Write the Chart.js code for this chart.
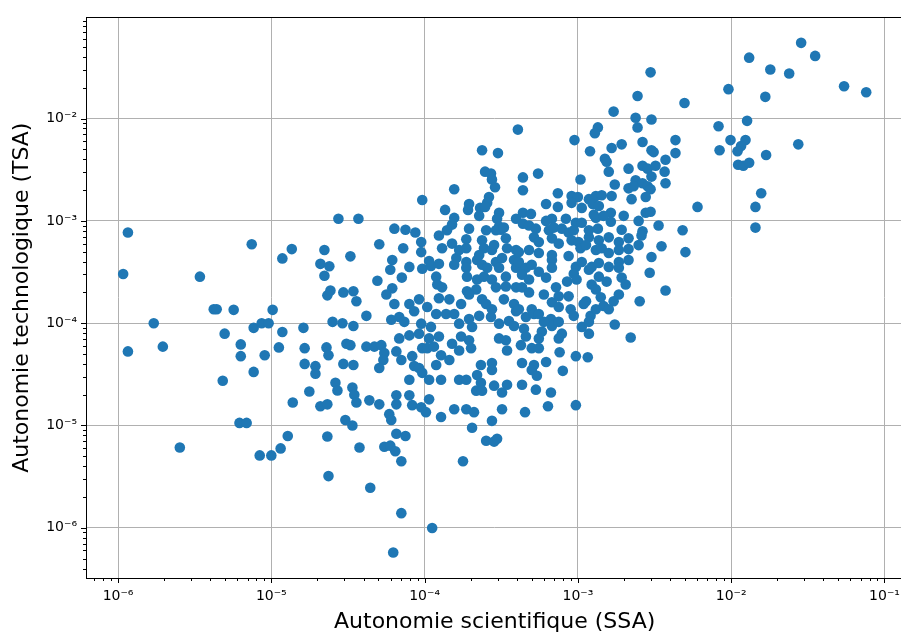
<!DOCTYPE html>
<html>
<head>
<meta charset="utf-8">
<script src="https://cdn.jsdelivr.net/npm/chart.js@4.4.0/dist/chart.umd.min.js"></script>
<style>
  html, body { margin: 0; padding: 0; background: #fff; overflow: hidden; }
  #wrap { width: 910px; height: 635px; }
</style>
</head>
<body>
<div id="wrap"><canvas id="chart" width="910" height="635"></canvas></div>
<script>
// SSA (x) and TSA (y) for each point
const ssa = [
  // left part
  1.08e-6, 1.16e-6, 1.16e-6, 1.71e-6, 1.96e-6, 2.53e-6, 3.42e-6, 4.21e-6, 4.4e-6, 5.68e-6,
  1.02e-5, 4.96e-6, 4.82e-6, 6.32e-6, 6.32e-6, 6.2e-6, 6.9e-6, 7.45e-6, 7.67e-6, 7.67e-6,
  8.4e-6, 1.0e-5, 8.65e-6, 9.6e-6, 9.05e-6, 1.18e-5, 1.12e-5, 1.18e-5, 1.36e-5, 1.15e-5,
  1.28e-5, 1.38e-5, 1.62e-5, 1.65e-5, 1.65e-5, 1.77e-5, 1.94e-5, 1.94e-5, 2.09e-5, 2.09e-5,
  2.22e-5, 2.22e-5, 2.29e-5, 2.32e-5, 2.32e-5, 2.32e-5, 2.36e-5, 2.36e-5, 2.39e-5, 2.43e-5,
  2.51e-5, 2.62e-5, 2.7e-5, 2.74e-5, 2.91e-5, 2.95e-5, 2.95e-5, 3.04e-5, 3.09e-5, 3.28e-5,
  3.28e-5, 3.38e-5, 3.38e-5, 3.43e-5, 3.43e-5, 3.43e-5, 3.48e-5, 3.59e-5, 3.59e-5, 3.7e-5,
  3.76e-5,
  // upper middle
  2.37e-4, 3.01e-4, 2.48e-4, 2.71e-4, 2.75e-4, 2.88e-4, 1.56e-4, 9.65e-5, 2.63e-4, 2.56e-4,
  2.3e-4, 2.48e-4, 1.36e-4, 1.92e-4, 2.27e-4, 3.06e-4, 2.97e-4, 3.95e-4, 6.35e-5, 7.5e-5,
  8.7e-5, 1.51e-4, 1.4e-4, 1.95e-4, 2.52e-4, 3.06e-4, 3.15e-4, 2.92e-4,
  // upper right of the cloud
  9.5e-4, 1.93e-3, 2.64e-3, 4.33e-3, 1.2e-3, 1.66e-3, 3.02e-3, 3.12e-3, 4.33e-3, 1.5e-3,
  1.54e-3, 1.59e-3, 2.14e-3, 2.64e-3, 2.85e-3, 3.21e-3, 3.73e-3, 3.68e-3, 3.02e-3, 4.38e-4,
  5.5e-4, 1.04e-3, 1.74e-3, 2.38e-3, 2.64e-3, 2.14e-3, 2.31e-3, 2.85e-3, 2.98e-3, 3.73e-3,
  4.38e-4, 7.4e-4, 9.1e-4, 1.0e-3, 9.1e-4, 1.18e-3, 1.31e-3, 1.43e-3, 1.66e-3, 2.24e-3,
  2.77e-3, 6.2e-4, 7.4e-4, 1.06e-3, 1.25e-3, 1.37e-3, 1.27e-3, 1.31e-3, 1.64e-3, 2.77e-3,
  2.98e-3, 4.38e-4, 4.94e-4, 6.77e-4, 6.2e-4, 8.35e-4, 9.7e-4, 1.06e-3, 1.35e-3, 1.64e-3,
  4.38e-4, 4.8e-4, 5.32e-4, 6.47e-4, 7.86e-4, 8.7e-4, 1.93e-3, 2.64e-3,
  // core, left half
  5.06e-5, 7.25e-5, 9.5e-5, 9.5e-5, 1.3e-4, 1.51e-4, 1.87e-4, 1.87e-4, 2.37e-4, 2.44e-4,
  2.75e-4, 3.39e-4, 3.45e-4, 3.95e-4, 6.15e-5, 5.97e-5, 9.65e-5, 1.1e-4, 1.24e-4, 1.61e-4,
  1.56e-4, 1.87e-4, 1.87e-4, 1.89e-4, 2.2e-4, 2.37e-4, 2.56e-4, 2.92e-4, 3.06e-4, 3.2e-4,
  3.83e-4, 3.95e-4, 1.19e-4, 1.21e-4, 1.3e-4, 4.92e-5, 7.1e-5, 6.15e-5, 5.63e-5, 1.24e-4,
  1.45e-4, 1.89e-4, 2.17e-4, 2.2e-4, 2.44e-4, 2.75e-4, 3.39e-4, 2.92e-4, 3.39e-4, 3.95e-4,
  6.35e-5, 7.95e-5, 8.55e-5, 9.2e-5, 1.04e-4, 4.17e-5, 6.06e-5, 6.83e-5, 7.37e-5, 1.19e-4,
  1.38e-4, 1.68e-4, 1.95e-4, 2.04e-4, 2.27e-4, 2.37e-4, 2.52e-4, 2.75e-4, 2.71e-4, 3.06e-4,
  3.55e-4, 3.83e-4, 3.95e-4, 9.5e-5, 1.1e-4,
  // core, right half
  5.17e-4, 6.77e-4, 7.5e-4, 9.1e-4, 1.01e-3, 1.18e-3, 1.37e-3, 1.59e-3, 1.85e-3, 2.14e-3,
  2.6e-3, 4.12e-4, 4.8e-4, 5.56e-4, 6.77e-4, 8.7e-4, 1.04e-3, 1.13e-3, 1.31e-3, 1.43e-3,
  1.59e-3, 1.85e-3, 1.85e-3, 2.14e-3, 3.51e-3, 3.02e-3, 2.94e-3, 3.73e-3, 4.12e-4, 4.58e-4,
  4.32e-4, 5.0e-4, 5.56e-4, 6.2e-4, 6.77e-4, 6.77e-4, 9.7e-4, 1.06e-3, 1.18e-3, 1.23e-3,
  9.4e-4, 9.8e-4, 8.5e-4, 1.37e-3, 1.54e-3, 1.23e-3, 1.31e-3, 1.41e-3, 1.85e-3, 1.93e-3,
  2.05e-3, 7.2e-4, 4.32e-4, 4.8e-4, 8.7e-4, 1.13e-3, 1.71e-3, 2.53e-3, 6.77e-4, 7.5e-4,
  8.97e-4, 1.21e-3, 1.31e-3, 1.47e-3, 4.12e-4, 5.0e-4, 4.58e-4, 5.17e-4, 6.67e-4, 6.77e-4,
  1.06e-3, 1.18e-3, 1.74e-3, 5.82e-4, 7.86e-4, 1.18e-3,
  // core, extra points in the densest part
  1.95e-4, 1.73e-4, 1.56e-4, 3.29e-4, 4.8e-4, 6.0e-4, 7.5e-4, 5.56e-4, 3.83e-4, 4.45e-4,
  7.5e-4, 9.4e-4, 1.09e-3, 1.59e-3, 1.85e-3, 2.27e-4, 1.68e-4, 2.84e-4, 3.29e-4, 5.56e-4,
  6.97e-4, 9.4e-4, 1.18e-3, 1.37e-3, 1.59e-3, 2.14e-3, 2.49e-3, 1.99e-3, 1.47e-3, 2.49e-3,
  3.36e-3, 1.95e-4, 1.56e-4, 1.24e-4, 1.07e-4, 7.95e-5, 3.06e-4, 6.0e-4,
  // lower middle
  4.17e-5, 4.7e-5, 5.22e-5, 5.46e-5, 5.38e-5, 5.06e-5, 6.83e-5, 6.54e-5, 7.05e-5, 7.95e-5,
  9.2e-5, 1.07e-4, 1.24e-4, 9.65e-5, 1.04e-4, 1.15e-4, 1.28e-4, 1.45e-4, 1.51e-4, 1.68e-4,
  1.73e-4, 1.95e-4, 2.01e-4, 8.3e-5, 8.55e-5, 9.2e-5, 9.65e-5, 1.07e-4, 1.19e-4, 1.28e-4,
  2.33e-4, 2.75e-4, 2.75e-4, 3.39e-4, 3.45e-4, 1.68e-4, 1.87e-4, 2.2e-4, 2.33e-4, 2.17e-4,
  2.37e-4, 2.84e-4, 3.2e-4, 3.45e-4, 7.95e-5, 6.54e-5, 6.54e-5, 7.95e-5, 4.36e-5, 5.06e-5,
  8.3e-5, 9.5e-5, 1.02e-4, 1.07e-4, 5.88e-5, 6.06e-5, 1.28e-4, 1.56e-4, 1.87e-4, 2.1e-4,
  3.2e-4, 2.75e-4, 2.04e-4, 6.54e-5,
  // lower right
  4.58e-4, 5.56e-4, 7.5e-4, 2.21e-3, 4.25e-4, 5.0e-4, 5.56e-4, 7.6e-4, 9.7e-4, 1.16e-3,
  4.32e-4, 5.17e-4, 5.0e-4, 5.4e-4, 6.2e-4, 7.97e-4, 4.32e-4, 5.32e-4, 6.67e-4, 4.52e-4,
  6.38e-4, 9.7e-4,
  // top
  4.06e-4, 2.98e-3, 2.45e-3, 1.71e-3, 2.38e-3, 2.45e-3, 3.02e-3, 4.96e-3, 1.35e-3, 1.29e-3,
  8.27e-3, 9.6e-3, 1.27e-2, 1.31e-2, 1.8e-2, 2.39e-2, 2.86e-2, 3.53e-2, 1.67e-2, 5.45e-2,
  7.6e-2,
  // far right
  9.9e-3, 1.24e-2, 1.16e-2, 1.1e-2, 8.4e-3, 2.74e-2, 1.69e-2, 1.11e-2, 1.2e-2, 1.31e-2,
  1.57e-2, 6.03e-3, 1.44e-2, 1.44e-2, 4.82e-3, 5.03e-3,
  // bottom
  7.5e-5, 5.46e-5, 5.97e-5, 6.44e-5, 7.05e-5, 4.42e-5, 7.05e-5, 6.24e-5, 1.12e-4, 1.78e-4,
  2.52e-4, 2.84e-4, 2.97e-4
];

const tsa = [
  // left part
  3.03e-4, 7.7e-4, 5.3e-5, 1.0e-4, 5.9e-5, 6.1e-6, 2.85e-4, 1.37e-4, 1.37e-4, 1.35e-4,
  1.35e-4, 7.9e-5, 2.74e-5, 6.2e-5, 4.76e-5, 1.06e-5, 1.06e-5, 5.9e-4, 9.0e-5, 3.34e-5,
  5.1e-6, 5.1e-6, 1.0e-4, 1.0e-4, 4.86e-5, 8.2e-5, 5.8e-5, 4.3e-4, 5.3e-4, 5.97e-6,
  7.9e-6, 1.68e-5, 9.0e-5, 5.7e-5, 4.0e-5, 2.15e-5, 3.8e-5, 3.2e-5, 3.8e-4, 1.54e-5,
  5.2e-4, 2.91e-4, 5.8e-5, 1.87e-4, 1.61e-5, 7.8e-6, 4.86e-5, 3.2e-6, 3.6e-4, 2.09e-4,
  1.03e-4, 2.62e-5, 2.2e-5, 1.05e-3, 1.0e-4, 2.0e-4, 4.0e-5, 1.13e-5, 6.3e-5, 6.1e-5,
  4.5e-4, 2.35e-5, 1.0e-5, 2.05e-4, 9.4e-5, 3.9e-5, 2.0e-5, 1.64e-4, 1.68e-5, 1.05e-3,
  6.1e-6,
  // upper middle
  4.9e-3, 4.6e-3, 3.03e-3, 2.9e-3, 2.54e-3, 2.13e-3, 2.04e-3, 1.6e-3, 1.71e-3, 1.5e-3,
  1.34e-3, 1.37e-3, 1.28e-3, 1.28e-3, 1.12e-3, 1.2e-3, 1.05e-3, 1.05e-3, 8.4e-4, 8.2e-4,
  7.7e-4, 9.2e-4, 8.1e-4, 8.4e-4, 8.1e-4, 8.8e-4, 8.2e-4, 8.1e-4,
  // upper right of the cloud
  6.16e-3, 5.6e-3, 5.9e-3, 6.16e-3, 4.8e-3, 5.15e-3, 4.9e-3, 4.7e-3, 4.6e-3, 4.05e-3,
  3.78e-3, 3.03e-3, 3.24e-3, 3.46e-3, 3.24e-3, 3.46e-3, 3.96e-3, 3.03e-3, 2.71e-3, 2.66e-3,
  2.9e-3, 2.54e-3, 2.27e-3, 2.49e-3, 2.33e-3, 2.08e-3, 2.18e-3, 2.18e-3, 2.04e-3, 2.33e-3,
  1.99e-3, 1.86e-3, 1.75e-3, 1.71e-3, 1.5e-3, 1.63e-3, 1.75e-3, 1.78e-3, 1.75e-3, 1.63e-3,
  1.71e-3, 1.46e-3, 1.37e-3, 1.34e-3, 1.46e-3, 1.4e-3, 1.15e-3, 1.07e-3, 1.2e-3, 1.2e-3,
  1.23e-3, 1.2e-3, 1.17e-3, 1.05e-3, 1.0e-3, 1.05e-3, 9.6e-4, 9.6e-4, 8.4e-4, 9.8e-4,
  9.4e-4, 9.0e-4, 8.4e-4, 8.1e-4, 8.4e-4, 7.7e-4, 8.2e-4, 7.9e-4,
  // core, left half
  5.9e-4, 5.4e-4, 6.2e-4, 4.95e-4, 5.4e-4, 6.0e-4, 6.6e-4, 5.4e-4, 6.45e-4, 5.4e-4,
  5.2e-4, 6.75e-4, 5.4e-4, 5.2e-4, 4.15e-4, 3.33e-4, 3.4e-4, 3.63e-4, 3.8e-4, 4.33e-4,
  3.72e-4, 3.97e-4, 3.48e-4, 2.85e-4, 4.15e-4, 3.72e-4, 3.48e-4, 3.97e-4, 3.48e-4, 4.33e-4,
  4.15e-4, 3.48e-4, 2.85e-4, 2.39e-4, 2.24e-4, 2.6e-4, 2.79e-4, 2.19e-4, 1.91e-4, 1.75e-4,
  1.71e-4, 2.05e-4, 2.14e-4, 2.67e-4, 2.85e-4, 2.67e-4, 2.85e-4, 2.24e-4, 2.28e-4, 2.24e-4,
  1.54e-4, 1.54e-4, 1.31e-4, 1.71e-4, 1.44e-4, 1.18e-4, 1.08e-4, 1.15e-4, 1.03e-4, 1.23e-4,
  1.23e-4, 9.9e-5, 1.1e-4, 9.2e-5, 1.18e-4, 1.71e-4, 1.54e-4, 1.37e-4, 1.15e-4, 9.9e-5,
  1.05e-4, 1.54e-4, 1.31e-4, 9.9e-5, 9.2e-5,
  // core, right half
  6.9e-4, 6.75e-4, 6.0e-4, 6.45e-4, 6.2e-4, 6.9e-4, 6.45e-4, 6.9e-4, 6.2e-4, 6.75e-4,
  7.2e-4, 4.95e-4, 5.2e-4, 4.85e-4, 4.63e-4, 4.53e-4, 5.4e-4, 5.8e-4, 5.2e-4, 5.4e-4,
  4.85e-4, 5.2e-4, 3.97e-4, 5.3e-4, 5.65e-4, 4.43e-4, 3.11e-4, 2.09e-4, 3.97e-4, 3.48e-4,
  2.98e-4, 3.72e-4, 3.18e-4, 2.79e-4, 4.15e-4, 3.48e-4, 3.55e-4, 3.97e-4, 3.33e-4, 3.55e-4,
  3.04e-4, 2.67e-4, 2.55e-4, 2.85e-4, 2.55e-4, 2.39e-4, 2.14e-4, 1.79e-4, 3.48e-4, 2.79e-4,
  2.39e-4, 2.24e-4, 2.24e-4, 2.0e-4, 1.83e-4, 1.64e-4, 1.64e-4, 1.64e-4, 1.6e-4, 1.44e-4,
  1.37e-4, 1.18e-4, 1.37e-4, 1.47e-4, 1.37e-4, 1.37e-4, 1.15e-4, 1.23e-4, 1.1e-4, 9.4e-5,
  9.2e-5, 1.03e-4, 9.7e-5, 8.3e-5, 7.9e-5, 7.9e-5,
  // core, extra points in the densest part
  1.91e-4, 1.54e-4, 1.23e-4, 1.71e-4, 2.67e-4, 1.91e-4, 1.83e-4, 1.23e-4, 9.4e-5, 8.8e-5,
  1.03e-4, 1.18e-4, 1.54e-4, 1.37e-4, 1.91e-4, 4.63e-4, 5.2e-4, 5.8e-4, 8.6e-4, 6.2e-4,
  8.6e-4, 8.1e-4, 8.1e-4, 3.88e-4, 3.55e-4, 4.15e-4, 1.0e-3, 1.12e-3, 1.12e-3, 5.8e-4,
  9.0e-4, 1.46e-3, 1.07e-3, 7.2e-4, 4.06e-4, 3.55e-4, 7.1e-5, 1.03e-4,
  // lower middle
  5.9e-5, 5.9e-5, 6.1e-5, 5.1e-5, 4.36e-5, 3.65e-5, 7.1e-5, 5.3e-5, 4.36e-5, 7.6e-5,
  7.9e-5, 7.1e-5, 7.4e-5, 5.7e-5, 5.7e-5, 5.9e-5, 4.86e-5, 4.36e-5, 6.3e-5, 5.4e-5,
  7.4e-5, 6.8e-5, 5.7e-5, 4.76e-5, 3.81e-5, 3.65e-5, 3.27e-5, 2.8e-5, 3.9e-5, 2.8e-5,
  3.9e-5, 4.08e-5, 3.49e-5, 6.8e-5, 5.4e-5, 2.8e-5, 2.8e-5, 3.12e-5, 2.62e-5, 2.19e-5,
  2.19e-5, 2.45e-5, 2.1e-5, 2.5e-5, 2.8e-5, 1.97e-5, 1.61e-5, 1.97e-5, 1.76e-5, 1.61e-5,
  1.58e-5, 1.51e-5, 1.35e-5, 1.8e-5, 1.29e-5, 1.13e-5, 1.21e-5, 1.44e-5, 1.44e-5, 1.35e-5,
  1.44e-5, 1.11e-5, 9.5e-6, 8.3e-6,
  // lower right
  7.4e-5, 7.1e-5, 7.1e-5, 7.25e-5, 6.1e-5, 5.7e-5, 5.7e-5, 5.2e-5, 4.76e-5, 4.65e-5,
  4.08e-5, 3.9e-5, 3.49e-5, 3.06e-5, 4.17e-5, 3.42e-5, 2.5e-5, 2.24e-5, 2.1e-5, 1.35e-5,
  1.54e-5, 1.58e-5,
  // top
  7.8e-3, 2.83e-2, 1.66e-2, 1.17e-2, 1.02e-2, 8.2e-3, 9.8e-3, 1.42e-2, 8.2e-3, 7.2e-3,
  8.4e-3, 1.94e-2, 9.5e-3, 3.94e-2, 3.02e-2, 2.76e-2, 5.5e-2, 4.1e-2, 1.63e-2, 2.07e-2,
  1.81e-2,
  // far right
  6.16e-3, 6.16e-3, 5.4e-3, 4.8e-3, 4.9e-3, 5.6e-3, 4.4e-3, 3.54e-3, 3.46e-3, 3.7e-3,
  1.86e-3, 1.37e-3, 1.37e-3, 8.6e-4, 8.1e-4, 4.95e-4,
  // bottom
  7.9e-6, 6.2e-6, 6.35e-6, 5.6e-6, 4.47e-6, 2.46e-6, 1.39e-6, 5.73e-7, 9.95e-7, 4.47e-6,
  7.1e-6, 6.96e-6, 7.4e-6
];

// axis limits (log scale, as in the reference)
const X_MIN = 6.18e-7, X_MAX = 0.1327;
const Y_MIN = 3.23e-7, Y_MAX = 0.0975;

const points = ssa.map((x, i) => ({ x: x, y: tsa[i] }));

const SUP = { '-': '\u207B', '0': '\u2070', '1': '\u00B9', '2': '\u00B2', '3': '\u00B3',
  '4': '\u2074', '5': '\u2075', '6': '\u2076', '7': '\u2077', '8': '\u2078', '9': '\u2079' };

function isDecade(v) {
  const l = Math.log10(v);
  return Math.abs(l - Math.round(l)) < 1e-6;
}

function powLabel(v) {
  const e = Math.round(Math.log10(v));
  return '10' + String(e).split('').map(c => SUP[c]).join('');
}

// 1..9 x 10^k ticks, decades are the major ones
function logTicks(scale) {
  const out = [];
  for (let e = -8; e <= 0; e++) {
    for (let m = 1; m <= 9; m++) {
      const v = m * Math.pow(10, e);
      if (v >= scale.min && v <= scale.max) out.push({ value: v, major: m === 1 });
    }
  }
  scale.ticks = out;
}

// black frame + outward tick marks (long on decades, short otherwise)
const axisFrame = {
  id: 'axisFrame',
  afterDatasetsDraw(chart) {
    const { ctx, chartArea: a, scales } = chart;
    ctx.save();
    ctx.strokeStyle = '#000';
    ctx.lineWidth = 1;
    ctx.beginPath();
    scales.x.ticks.forEach(t => {
      const px = Math.round(scales.x.getPixelForValue(t.value)) + 0.5;
      const len = isDecade(t.value) ? 5 : 3;
      ctx.moveTo(px, a.bottom);
      ctx.lineTo(px, a.bottom + len);
    });
    scales.y.ticks.forEach(t => {
      const py = Math.round(scales.y.getPixelForValue(t.value)) + 0.5;
      const len = isDecade(t.value) ? 5 : 3;
      ctx.moveTo(a.left - len, py);
      ctx.lineTo(a.left, py);
    });
    ctx.stroke();
    ctx.strokeRect(Math.round(a.left) + 0.5, Math.round(a.top) + 0.5,
      Math.round(a.right - a.left), Math.round(a.bottom - a.top));
    ctx.restore();
  }
};

const tickFont = { family: 'DejaVu Sans', size: 14 };
const titleFont = { family: 'DejaVu Sans', size: 22, lineHeight: 1.2 };
const gridColor = c => (c.tick && isDecade(c.tick.value)) ? '#b0b0b0' : 'rgba(0,0,0,0)';

new Chart(document.getElementById('chart'), {
  type: 'scatter',
  data: {
    datasets: [{
      data: points,
      backgroundColor: '#1f77b4',
      borderColor: '#1f77b4',
      borderWidth: 0,
      pointRadius: 5.3,
      pointHoverRadius: 5.3
    }]
  },
  options: {
    responsive: false,
    animation: false,
    events: [],
    devicePixelRatio: 1,
    layout: { padding: { top: 8, right: 5, left: 0, bottom: 0 } },
    plugins: { legend: { display: false }, tooltip: { enabled: false } },
    scales: {
      x: {
        type: 'logarithmic',
        bounds: 'data',
        min: X_MIN,
        max: X_MAX,
        afterBuildTicks: logTicks,
        afterFit: s => { s.height = 57; },
        border: { display: false },
        grid: { color: gridColor, lineWidth: 1, drawTicks: false },
        ticks: {
          autoSkip: false, maxRotation: 0, minRotation: 0, padding: 10,
          color: '#000', font: tickFont,
          callback: v => isDecade(v) ? powLabel(v) : ''
        },
        title: {
          display: true, text: 'Autonomie scientifique (SSA)', color: '#000',
          font: titleFont, padding: { top: 0, bottom: 0 }
        }
      },
      y: {
        type: 'logarithmic',
        bounds: 'data',
        min: Y_MIN,
        max: Y_MAX,
        afterBuildTicks: logTicks,
        afterFit: s => { s.width = 86; },
        border: { display: false },
        grid: { color: gridColor, lineWidth: 1, drawTicks: false },
        ticks: {
          autoSkip: false, padding: 9,
          color: '#000', font: tickFont,
          callback: v => isDecade(v) ? powLabel(v) : ''
        },
        title: {
          display: true, text: 'Autonomie technologique (TSA)', color: '#000',
          font: titleFont, padding: { top: 9, bottom: 0 }
        }
      }
    }
  },
  plugins: [axisFrame]
});
</script>
</body>
</html>
